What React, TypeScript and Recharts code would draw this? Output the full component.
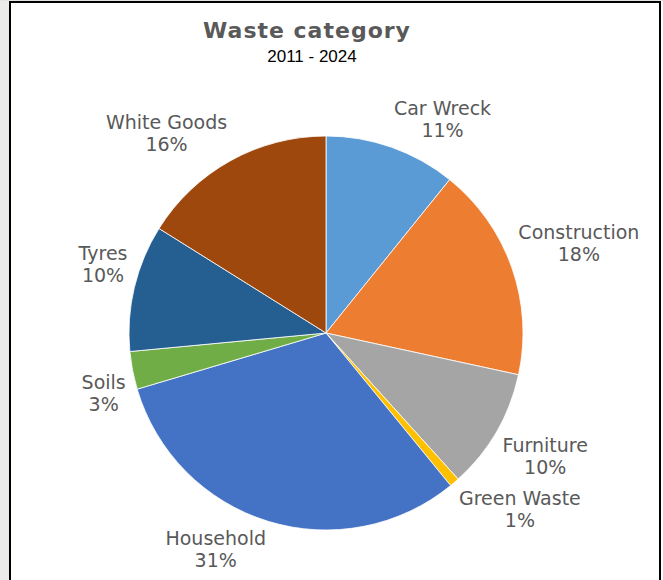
import React from "react";
import { PieChart, Pie, Cell } from "recharts";

const categories = ["Car Wreck", "Construction", "Furniture", "Green Waste", "Household", "Soils", "Tyres", "White Goods"];
const shares = [10.8, 17.6, 9.9, 0.8, 31.3, 3.1, 10.4, 16.1];
const colors = ["#5B9BD5", "#ED7D31", "#A5A5A5", "#FFC000", "#4472C4", "#70AD47", "#255E91", "#9E480E"];
const titleText = "Waste category";
const subtitleText = "2011 - 2024";

const data = categories.map((name, i) => ({ name, value: shares[i] }));

const LABEL_FONT = "19px 'DejaVu Sans'";
let ctx: CanvasRenderingContext2D | null = null;
function measure(t: string): number {
  if (!ctx) {
    const c = document.createElement("canvas");
    ctx = c.getContext("2d");
  }
  if (!ctx) return t.length * 10;
  ctx.font = LABEL_FONT;
  return ctx.measureText(t).width;
}

const RAD = Math.PI / 180;

function renderLabel(props: any) {
  const { cx, cy, midAngle, outerRadius, percent, name } = props;
  const dx = Math.cos(-midAngle * RAD);
  const dy = Math.sin(-midAngle * RAD);
  const R = outerRadius + 7;
  const px = cx + R * dx;
  const py = cy + R * dy;
  const pct = Math.round(percent * 100) + "%";
  const w = Math.max(measure(name), measure(pct));
  const x = px + (dx >= 0 ? 1 : -1) * (w / 2);
  let y1: number, y2: number;
  if (dy > 0) {
    y1 = py + 17;
    y2 = py + 39;
  } else {
    y2 = py - 4;
    y1 = py - 26;
  }
  return (
    <g>
      <text x={x} y={y1} textAnchor="middle" fill="#595959" style={{ font: LABEL_FONT }}>
        {name}
      </text>
      <text x={x} y={y2} textAnchor="middle" fill="#595959" style={{ font: LABEL_FONT }}>
        {pct}
      </text>
    </g>
  );
}

export default function App() {
  return (
    <div style={{ position: "absolute", left: 0, top: 0, width: 663, height: 580, overflow: "hidden", background: "#fff" }}>
      <div style={{ position: "absolute", left: 0, top: 0, width: 9, height: 580, background: "#ebebea" }} />
      <div style={{ position: "absolute", left: 0, top: 0, width: 663, height: 1, background: "#e4e4e4" }} />
      <div style={{ position: "absolute", left: 9, top: 1, width: 2, height: 579, background: "#000" }} />
      <div style={{ position: "absolute", left: 9, top: 1, width: 652, height: 2, background: "#000" }} />
      <div style={{ position: "absolute", left: 659, top: 1, width: 2, height: 579, background: "#000" }} />
      <div style={{ position: "absolute", left: 0, top: 0 }}>
        <PieChart width={663} height={580} margin={{ top: 0, right: 0, bottom: 0, left: 0 }}>
          <Pie
            data={data}
            dataKey="value"
            nameKey="name"
            cx={326}
            cy={333}
            outerRadius={197}
            startAngle={90}
            endAngle={-270}
            stroke="#ffffff"
            strokeWidth={0.8}
            label={renderLabel}
            labelLine={false}
            isAnimationActive={false}
          >
            {data.map((d, i) => (
              <Cell key={d.name} fill={colors[i]} />
            ))}
          </Pie>
        </PieChart>
      </div>
      <svg width={663} height={580} style={{ position: "absolute", left: 0, top: 0, pointerEvents: "none" }}>
        <text x={307} y={38} textAnchor="middle" fill="#595959" style={{ font: "bold 22px 'DejaVu Sans'", letterSpacing: "1px" }}>
          {titleText}
        </text>
        <text x={312} y={62} textAnchor="middle" fill="#000" style={{ font: "17px 'Liberation Sans'" }}>
          {subtitleText}
        </text>
      </svg>
    </div>
  );
}
